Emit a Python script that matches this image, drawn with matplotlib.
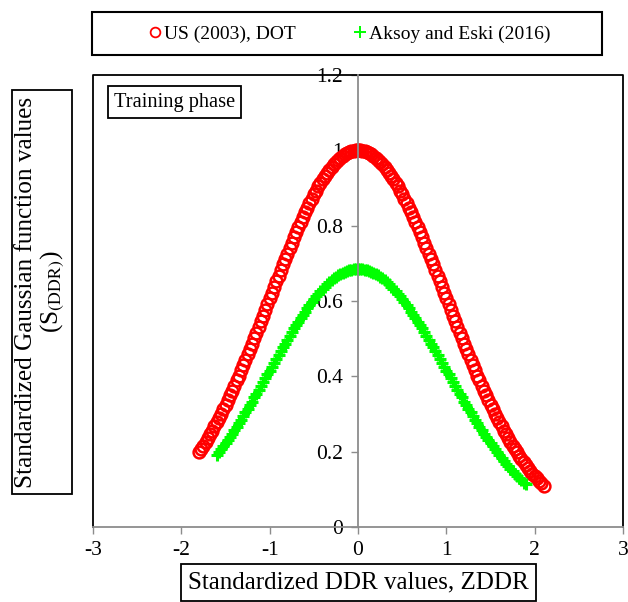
import matplotlib
matplotlib.use('Agg')
import matplotlib.pyplot as plt
from matplotlib.patches import Rectangle

plt.rcParams['font.family'] = ['Liberation Serif', 'DejaVu Serif']
plt.rcParams['mathtext.fontset'] = 'stix'
plt.rcParams['axes.unicode_minus'] = False

# Standardized DDR values (ZDDR) and Gaussian function values, US (2003) DOT
us_z = [-1.800, -1.775, -1.750, -1.725, -1.700, -1.675, -1.650, -1.625,
        -1.600, -1.575, -1.550, -1.525, -1.500, -1.475, -1.450, -1.425,
        -1.400, -1.375, -1.350, -1.325, -1.300, -1.275, -1.250, -1.225,
        -1.200, -1.175, -1.150, -1.125, -1.100, -1.075, -1.050, -1.025,
        -1.000, -0.975, -0.950, -0.925, -0.900, -0.875, -0.850, -0.825,
        -0.800, -0.775, -0.750, -0.725, -0.700, -0.675, -0.650, -0.625,
        -0.600, -0.575, -0.550, -0.525, -0.500, -0.475, -0.450, -0.425,
        -0.400, -0.375, -0.350, -0.325, -0.300, -0.275, -0.250, -0.225,
        -0.200, -0.175, -0.150, -0.125, -0.100, -0.075, -0.050, -0.025,
        0.000, 0.025, 0.050, 0.075, 0.100, 0.125, 0.150, 0.175,
        0.200, 0.225, 0.250, 0.275, 0.300, 0.325, 0.350, 0.375,
        0.400, 0.425, 0.450, 0.475, 0.500, 0.525, 0.550, 0.575,
        0.600, 0.625, 0.650, 0.675, 0.700, 0.725, 0.750, 0.775,
        0.800, 0.825, 0.850, 0.875, 0.900, 0.925, 0.950, 0.975,
        1.000, 1.025, 1.050, 1.075, 1.100, 1.125, 1.150, 1.175,
        1.200, 1.225, 1.250, 1.275, 1.300, 1.325, 1.350, 1.375,
        1.400, 1.425, 1.450, 1.475, 1.500, 1.525, 1.550, 1.575,
        1.600, 1.625, 1.650, 1.675, 1.700, 1.725, 1.750, 1.775,
        1.800, 1.825, 1.850, 1.875, 1.900, 1.925, 1.950, 1.975,
        2.000, 2.025, 2.050, 2.075, 2.100]
us_s = [0.198, 0.207, 0.216, 0.226, 0.236, 0.246, 0.256, 0.267,
        0.278, 0.289, 0.301, 0.313, 0.325, 0.337, 0.350, 0.362,
        0.375, 0.389, 0.402, 0.416, 0.430, 0.444, 0.458, 0.472,
        0.487, 0.502, 0.516, 0.531, 0.546, 0.561, 0.576, 0.591,
        0.607, 0.622, 0.637, 0.652, 0.667, 0.682, 0.697, 0.712,
        0.726, 0.741, 0.755, 0.769, 0.783, 0.796, 0.810, 0.823,
        0.835, 0.848, 0.860, 0.871, 0.883, 0.893, 0.904, 0.914,
        0.923, 0.932, 0.941, 0.949, 0.956, 0.963, 0.969, 0.975,
        0.980, 0.985, 0.989, 0.992, 0.995, 0.997, 0.999, 1.000,
        1.000, 1.000, 0.999, 0.997, 0.995, 0.992, 0.989, 0.985,
        0.980, 0.975, 0.969, 0.963, 0.956, 0.949, 0.941, 0.932,
        0.923, 0.914, 0.904, 0.893, 0.883, 0.871, 0.860, 0.848,
        0.835, 0.823, 0.810, 0.796, 0.783, 0.769, 0.755, 0.741,
        0.726, 0.712, 0.697, 0.682, 0.667, 0.652, 0.637, 0.622,
        0.607, 0.591, 0.576, 0.561, 0.546, 0.531, 0.516, 0.502,
        0.487, 0.472, 0.458, 0.444, 0.430, 0.416, 0.402, 0.389,
        0.375, 0.362, 0.350, 0.337, 0.325, 0.313, 0.301, 0.289,
        0.278, 0.267, 0.256, 0.246, 0.236, 0.226, 0.216, 0.207,
        0.198, 0.189, 0.181, 0.172, 0.165, 0.157, 0.149, 0.142,
        0.135, 0.129, 0.122, 0.116, 0.110]

# Aksoy and Eski (2016)
ae_z = [-1.600, -1.575, -1.550, -1.525, -1.500, -1.475, -1.450, -1.425,
        -1.400, -1.375, -1.350, -1.325, -1.300, -1.275, -1.250, -1.225,
        -1.200, -1.175, -1.150, -1.125, -1.100, -1.075, -1.050, -1.025,
        -1.000, -0.975, -0.950, -0.925, -0.900, -0.875, -0.850, -0.825,
        -0.800, -0.775, -0.750, -0.725, -0.700, -0.675, -0.650, -0.625,
        -0.600, -0.575, -0.550, -0.525, -0.500, -0.475, -0.450, -0.425,
        -0.400, -0.375, -0.350, -0.325, -0.300, -0.275, -0.250, -0.225,
        -0.200, -0.175, -0.150, -0.125, -0.100, -0.075, -0.050, -0.025,
        0.000, 0.025, 0.050, 0.075, 0.100, 0.125, 0.150, 0.175,
        0.200, 0.225, 0.250, 0.275, 0.300, 0.325, 0.350, 0.375,
        0.400, 0.425, 0.450, 0.475, 0.500, 0.525, 0.550, 0.575,
        0.600, 0.625, 0.650, 0.675, 0.700, 0.725, 0.750, 0.775,
        0.800, 0.825, 0.850, 0.875, 0.900, 0.925, 0.950, 0.975,
        1.000, 1.025, 1.050, 1.075, 1.100, 1.125, 1.150, 1.175,
        1.200, 1.225, 1.250, 1.275, 1.300, 1.325, 1.350, 1.375,
        1.400, 1.425, 1.450, 1.475, 1.500, 1.525, 1.550, 1.575,
        1.600, 1.625, 1.650, 1.675, 1.700, 1.725, 1.750, 1.775,
        1.800, 1.825, 1.850, 1.875, 1.900]
ae_s = [0.190, 0.198, 0.206, 0.214, 0.222, 0.231, 0.239, 0.248,
        0.257, 0.266, 0.275, 0.285, 0.294, 0.304, 0.314, 0.323,
        0.333, 0.344, 0.354, 0.364, 0.374, 0.384, 0.395, 0.405,
        0.415, 0.426, 0.436, 0.447, 0.457, 0.467, 0.477, 0.487,
        0.497, 0.507, 0.517, 0.527, 0.536, 0.545, 0.555, 0.563,
        0.572, 0.581, 0.589, 0.597, 0.605, 0.612, 0.619, 0.626,
        0.632, 0.638, 0.644, 0.650, 0.655, 0.660, 0.664, 0.668,
        0.671, 0.675, 0.677, 0.680, 0.682, 0.683, 0.684, 0.685,
        0.685, 0.685, 0.684, 0.683, 0.682, 0.680, 0.677, 0.675,
        0.671, 0.668, 0.664, 0.660, 0.655, 0.650, 0.644, 0.638,
        0.632, 0.626, 0.619, 0.612, 0.605, 0.597, 0.589, 0.581,
        0.572, 0.563, 0.555, 0.545, 0.536, 0.527, 0.517, 0.507,
        0.497, 0.487, 0.477, 0.467, 0.457, 0.447, 0.436, 0.426,
        0.415, 0.405, 0.395, 0.384, 0.374, 0.364, 0.354, 0.344,
        0.333, 0.323, 0.314, 0.304, 0.294, 0.285, 0.275, 0.266,
        0.257, 0.248, 0.239, 0.231, 0.222, 0.214, 0.206, 0.198,
        0.190, 0.183, 0.176, 0.168, 0.161, 0.155, 0.148, 0.142,
        0.136, 0.130, 0.124, 0.118, 0.113]

x_ticks = [-3, -2, -1, 0, 1, 2, 3]
y_ticks = [0, 0.2, 0.4, 0.6, 0.8, 1.0, 1.2]
y_tick_labels = ['0', '0.2', '0.4', '0.6', '0.8', '1', '1.2']

W, H = 628, 602
fig = plt.figure(figsize=(W / 100, H / 100), dpi=100)
ax = fig.add_axes([93 / W, 75 / H, 530 / W, 452 / H])

axis_grey = '#8c8c8c'

h1, = ax.plot(us_z, us_s, 'o', ls='none', mfc='none', mec='#ff0000',
              ms=8.5, mew=1.8, label='US (2003), DOT')
h2, = ax.plot(ae_z, ae_s, '+', ls='none', color='#00ff00',
              ms=8, mew=2.2, label='Aksoy and Eski (2016)')

ax.set_xlim(-3, 3)
ax.set_ylim(0, 1.2)
ax.set_xticks(x_ticks)
ax.set_xticklabels([str(t) for t in x_ticks])
ax.set_yticks(y_ticks)
ax.set_yticklabels(y_tick_labels)

# axes cross at the origin, plot area framed in black
for s in ('top', 'right'):
    ax.spines[s].set_visible(False)
ax.spines['left'].set_position(('data', 0))
ax.spines['left'].set_color(axis_grey)
ax.spines['bottom'].set_color(axis_grey)
ax.spines['left'].set_linewidth(1.3)
ax.spines['bottom'].set_linewidth(1.3)
ax.plot([0, 0, 1, 1], [0, 1, 1, 0], transform=ax.transAxes,
        color='black', lw=1.3, clip_on=False)

ax.tick_params(axis='both', direction='out', length=5, width=1,
               color=axis_grey, labelsize=15.5)
ax.tick_params(axis='x', pad=5)
ax.tick_params(axis='y', pad=6)

ax.text(0.154, 0.940, 'Training phase', transform=ax.transAxes,
        ha='center', va='center', fontsize=14.7,
        bbox=dict(boxstyle='square,pad=0.3', fc='white', ec='black', lw=1.3))

# legend in its own framed box above the plot
fig.patches.append(Rectangle((92 / W, 1 - 55 / H), 510 / W, 43 / H,
                             transform=fig.transFigure, fill=False,
                             ec='black', lw=1.5))
leg = fig.legend([h1, h2], [h1.get_label(), h2.get_label()], loc='center',
                 bbox_to_anchor=(0.5555, 0.944), ncol=2, frameon=False,
                 columnspacing=2.9, handletextpad=0.05, handlelength=0.8,
                 fontsize=14)
leg_red, leg_green = leg.legend_handles
leg_red.set_markersize(7)
leg_red.set_markeredgewidth(1.3)
leg_green.set_markersize(8)
leg_green.set_markeredgewidth(1.4)

fig.text(0.064, 0.515,
         'Standardized Gaussian function values\n(S$_{\\mathrm{(DDR)}}$)',
         rotation=90, ha='center', va='center', multialignment='center',
         fontsize=18.2, linespacing=1.05,
         bbox=dict(boxstyle='square,pad=0.25', fc='white', ec='black', lw=1.3))

fig.text(0.571, 0.032, 'Standardized DDR values, ZDDR',
         ha='center', va='center', fontsize=18,
         bbox=dict(boxstyle='square,pad=0.3', fc='white', ec='black', lw=1.3))

fig.savefig('out.png', dpi=100)
